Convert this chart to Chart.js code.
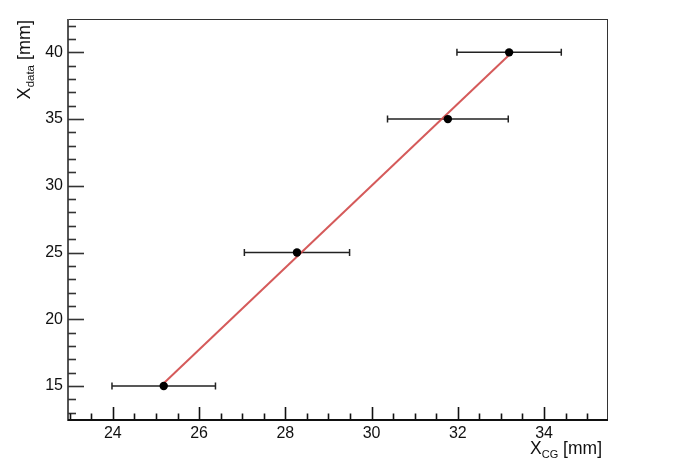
<!DOCTYPE html>
<html><head><meta charset="utf-8">
<script src="https://cdn.jsdelivr.net/npm/chart.js@4/dist/chart.umd.min.js"></script>
<style>html,body{margin:0;padding:0;background:#fff}#wrap{width:675px;height:470px;position:relative}</style>
</head><body><div id="wrap"><canvas id="c"></canvas></div>
<script>
// Data
const xCG = [25.18, 28.27, 31.77, 33.19];
const xCGErr = [1.2, 1.22, 1.4, 1.21];
const xData = [15, 25, 35, 40];
const fitX = [25.18, 33.19];
const fitY = [15.2, 39.8];
const xTicks = [24, 26, 28, 30, 32, 34];
const yTicks = [15, 20, 25, 30, 35, 40];
const xRange = [22.96, 35.46];
const yRange = [12.45, 42.5];

const FONT = "'Liberation Sans', Arial, Helvetica, sans-serif";

const errPlugin = {
  id: 'errbars',
  beforeDatasetsDraw(chart) {
    const ctx = chart.ctx, xs = chart.scales.x, ys = chart.scales.y;
    ctx.save();
    ctx.strokeStyle = '#222';
    ctx.lineWidth = 1.5;
    for (let i = 0; i < xCG.length; i++) {
      const y = ys.getPixelForValue(xData[i]);
      const x1 = xs.getPixelForValue(xCG[i] - xCGErr[i]);
      const x2 = xs.getPixelForValue(xCG[i] + xCGErr[i]);
      ctx.beginPath();
      ctx.moveTo(x1, y); ctx.lineTo(x2, y);
      ctx.moveTo(x1, y - 3.5); ctx.lineTo(x1, y + 3.5);
      ctx.moveTo(x2, y - 3.5); ctx.lineTo(x2, y + 3.5);
      ctx.stroke();
    }
    ctx.restore();
  }
};

const framePlugin = {
  id: 'frame',
  afterDraw(chart) {
    const ctx = chart.ctx, a = chart.chartArea, xs = chart.scales.x, ys = chart.scales.y;
    ctx.save();
    // frame
    ctx.strokeStyle = '#333';
    ctx.lineWidth = 1;
    ctx.strokeRect(a.left + 0.5, a.top + 0.5, a.right - a.left, a.bottom - a.top);
    // left axis
    ctx.strokeStyle = '#555';
    ctx.lineWidth = 2;
    ctx.beginPath(); ctx.moveTo(a.left, a.top); ctx.lineTo(a.left, a.bottom + 1); ctx.stroke();
    // bottom axis
    ctx.strokeStyle = '#111';
    ctx.beginPath(); ctx.moveTo(a.left, a.bottom); ctx.lineTo(a.right + 1, a.bottom); ctx.stroke();
    // y ticks (inward)
    ctx.lineWidth = 1.6;
    ctx.strokeStyle = '#333';
    for (let v = Math.ceil(yRange[0]); v <= yRange[1]; v += 1) {
      const y = Math.round(ys.getPixelForValue(v)) + 0.5;
      const len = (v % 5 === 0) ? 16 : 8;
      ctx.beginPath(); ctx.moveTo(a.left, y); ctx.lineTo(a.left + len, y); ctx.stroke();
    }
    // x ticks (inward)
    ctx.strokeStyle = '#111';
    for (let k = Math.ceil(xRange[0] * 2); k <= xRange[1] * 2; k++) {
      const v = k / 2;
      const x = Math.round(xs.getPixelForValue(v)) + 0.5;
      const len = (k % 4 === 0) ? 13 : 6.5;
      ctx.beginPath(); ctx.moveTo(x, a.bottom); ctx.lineTo(x, a.bottom - len); ctx.stroke();
    }
    // x title
    ctx.fillStyle = '#111';
    ctx.textBaseline = 'alphabetic';
    ctx.textAlign = 'left';
    const big = '17.5px ' + FONT, small = '11px ' + FONT;
    ctx.font = big; const wX = ctx.measureText('X').width;
    ctx.font = small; const wCG = ctx.measureText('CG').width;
    ctx.font = big; const wU = ctx.measureText(' [mm]').width;
    let x0 = 602 - (wX + wCG + wU);
    const by = 454;
    ctx.font = big; ctx.fillText('X', x0, by);
    ctx.font = small; ctx.fillText('CG', x0 + wX, by + 4);
    ctx.font = big; ctx.fillText(' [mm]', x0 + wX + wCG, by);
    // y title (rotated)
    ctx.save();
    ctx.translate(30, 20);
    ctx.rotate(-Math.PI / 2);
    const bigY = '18px ' + FONT, smallY = '11.5px ' + FONT;
    ctx.font = bigY; const yX = ctx.measureText('X').width;
    ctx.font = smallY; const yD = ctx.measureText('data').width;
    ctx.font = bigY; const yU = ctx.measureText(' [mm]').width;
    let s = -(yX + yD + yU);
    ctx.font = bigY; ctx.fillText('X', s, 0);
    ctx.font = smallY; ctx.fillText('data', s + yX, 4);
    ctx.font = bigY; ctx.fillText(' [mm]', s + yX + yD, 0);
    ctx.restore();
    ctx.restore();
  }
};

new Chart(document.getElementById('c'), {
  type: 'scatter',
  data: {
    datasets: [
      {
        label: 'points',
        data: xCG.map((x, i) => ({ x: x, y: xData[i] })),
        pointRadius: 4.2,
        pointHoverRadius: 4.2,
        pointBackgroundColor: '#000',
        pointBorderWidth: 0,
        showLine: false,
        order: 0
      },
      {
        label: 'fit',
        data: fitX.map((x, i) => ({ x: x, y: fitY[i] })),
        showLine: true,
        borderColor: 'rgba(208,72,72,0.9)',
        borderWidth: 2,
        pointRadius: 0,
        order: 1
      }
    ]
  },
  options: {
    responsive: true,
    maintainAspectRatio: false,
    animation: false,
    devicePixelRatio: 1,
    layout: { padding: { top: 19, right: 68, left: 0, bottom: 0 } },
    plugins: { legend: { display: false }, tooltip: { enabled: false } },
    scales: {
      x: {
        type: 'linear', min: xRange[0], max: xRange[1],
        afterBuildTicks: s => { s.ticks = xTicks.map(v => ({ value: v })); },
        afterFit: s => { s.height = 50; },
        grid: { display: false, drawTicks: false },
        border: { display: false },
        ticks: { color: '#111', font: { family: FONT, size: 16 }, padding: 4, maxRotation: 0, autoSkip: false }
      },
      y: {
        type: 'linear', min: yRange[0], max: yRange[1],
        afterBuildTicks: s => { s.ticks = yTicks.map(v => ({ value: v })); },
        afterFit: s => { s.width = 68; },
        grid: { display: false, drawTicks: false },
        border: { display: false },
        ticks: { color: '#111', font: { family: FONT, size: 16 }, padding: 5, autoSkip: false }
      }
    }
  },
  plugins: [errPlugin, framePlugin]
});
</script>
</body></html>
